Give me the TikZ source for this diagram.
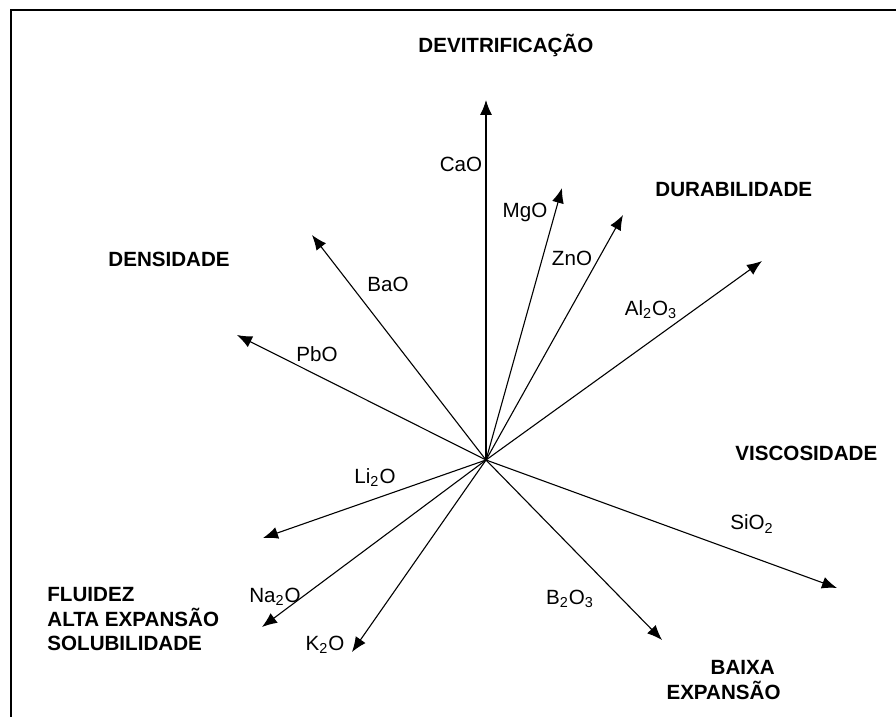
\documentclass[tikz,border=0pt]{standalone}
\usepackage{fontspec}
\setmainfont{Liberation Sans}
\usetikzlibrary{arrows.meta}

\tikzset{
  prop/.style={font=\fontsize{10.3pt}{12.3pt}\selectfont\bfseries, inner sep=0pt},
  oxide/.style={font=\fontsize{10.3pt}{12.3pt}\selectfont, inner sep=0pt, anchor=base}
}

\begin{document}
\begin{tikzpicture}[x=0.5pt,y=-0.5pt,>={Latex[length=7.5pt,width=6pt]}]
\useasboundingbox (0,0) rectangle (896,717);
% frame
\draw[line width=0.8pt] (896,10) -- (11,10) -- (11,717);

% origin and arrow tips
\coordinate (o) at (486,460);
\coordinate (cao) at (486,100);
\coordinate (mgo) at (562,188);
\coordinate (zno) at (623,215);
\coordinate (alo) at (762,261);
\coordinate (sio) at (837,588);
\coordinate (bo) at (662,640);
\coordinate (ko) at (352,652);
\coordinate (nao) at (262,627);
\coordinate (lio) at (263,538);
\coordinate (pbo) at (237,335);
\coordinate (bao) at (312,235);

\path[->,line width=0.55pt]
(o) edge (cao)
(o) edge (mgo)
(o) edge (zno)
(o) edge (alo)
(o) edge (sio)
(o) edge (bo)
(o) edge (ko)
(o) edge (nao)
(o) edge (lio)
(o) edge (pbo)
(o) edge (bao);

% oxides
\node[oxide] (l-cao) at (461,172) {CaO};
\node[oxide] (l-mgo) at (525,218) {MgO};
\node[oxide] (l-zno) at (572,266) {ZnO};
\node[oxide] (l-alo) at (651,315) {Al\textsubscript{2}O\textsubscript{3}};
\node[oxide] (l-sio) at (752,530) {SiO\textsubscript{2}};
\node[oxide] (l-bo) at (570,604) {B\textsubscript{2}O\textsubscript{3}};
\node[oxide] (l-ko) at (325,650) {K\textsubscript{2}O};
\node[oxide] (l-nao) at (275,602) {Na\textsubscript{2}O};
\node[oxide] (l-lio) at (375,483) {Li\textsubscript{2}O};
\node[oxide] (l-pbo) at (317,362) {PbO};
\node[oxide] (l-bao) at (388,292) {BaO};

% properties
\node[prop,anchor=base west] (devit) at (418,53) {DEVITRIFICAÇÃO};
\node[prop,anchor=base west] (dur) at (655,197) {DURABILIDADE};
\node[prop,anchor=base west] (dens) at (108,267) {DENSIDADE};
\node[prop,anchor=base west] (visc) at (735,460) {VISCOSIDADE};
\node[prop,anchor=north west,align=left] (fluid) at (47,587)
  {FLUIDEZ\\ALTA EXPANSÃO\\SOLUBILIDADE};
\node[prop,anchor=north east,align=right] (baixa) at (781,660)
  {BAIXA\hspace*{.28em}\\EXPANSÃO};
\end{tikzpicture}
\end{document}
